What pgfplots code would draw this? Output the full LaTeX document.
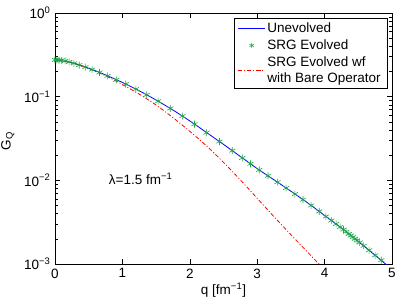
\documentclass[border=0pt]{standalone}
\usepackage{fontspec}
\setmainfont{Liberation Sans}
\usepackage{pgfplots}
\pgfplotsset{compat=1.18}
\definecolor{srggreen}{RGB}{30,165,70}
\begin{document}
\fontsize{13.5}{16}\selectfont
\begin{tikzpicture}[font=\fontsize{13.5}{16}\selectfont]
\begin{axis}[name=ax, scale only axis, width=337pt, height=251pt,
  xmin=0, xmax=5, ymode=log, ymin=1e-3, ymax=1,
  xtick={0,1,2,3,4,5},
  ytick={1e-3,1e-2,1e-1,1},
  yticklabels={10\textsuperscript{−3},10\textsuperscript{−2},10\textsuperscript{−1},10\textsuperscript{0}},
  /pgf/number format/assume math mode=true,
  tick align=inside, major tick length=5pt, minor tick length=3pt,
  every tick/.style={black, line width=0.5pt},
  axis line style={line width=0.6pt},
  xlabel={q [fm\textsuperscript{−1}]},
  ylabel={G\textsubscript{Q}},
  xlabel style={at={(axis description cs:0.5,-0.105)}, anchor=center},
  ylabel style={at={(axis description cs:-0.14,0.49)}, anchor=center},
  legend style={at={(0.985,0.98)}, anchor=north east,
    cells={align=left, anchor=west}, inner xsep=4pt, inner ysep=2pt, row sep=1.5pt},
  legend cell align=left,
  legend image code/.code={\draw[mark repeat=2,mark phase=2,#1] plot coordinates {(0cm,0cm) (0.47cm,0cm) (0.94cm,0cm)};},
  clip=true,
]
\addplot[blue, line width=0.8pt, smooth] coordinates {
(0,0.2754) (0.25,0.2541) (0.5,0.2188) (0.75,0.1820) (1.0,0.1479) (1.25,0.1175)
(1.5,0.0912) (1.75,0.0692) (2.0,0.0513) (2.25,0.0372) (2.5,0.0269) (2.75,0.0193)
(3.0,0.0138) (3.25,0.01012) (3.5,0.00741) (3.75,0.00537) (4.0,0.00380) (4.25,0.00269)
(4.5,0.00186) (4.75,0.00127) (4.95,0.000933)
};
\addlegendentry{Unevolved}
\addplot[srggreen, mark=asterisk, mark size=3.5pt, draw=none, mark options={line width=0.6pt},
  legend image code/.code={\draw[srggreen, line width=0.5pt] plot[mark=asterisk, mark size=2.5pt] coordinates {(0.47cm,0cm)};}] coordinates {
(0,0.2754) (0.03,0.2752) (0.06,0.2742) (0.1,0.2723) (0.15,0.2679) (0.21,0.2600)
(0.28,0.2506) (0.36,0.2388) (0.45,0.2254) (0.55,0.2109) (0.66,0.1945) (0.78,0.1774)
(0.91,0.1592) (1.05,0.1413) (1.2,0.1230) (1.36,0.1052) (1.53,0.0883) (1.71,0.0723)
(1.89,0.0585) (2.07,0.0469) (2.25,0.0372) (2.44,0.0291) (2.63,0.02265) (2.78,0.01853)
(2.9,0.01578) (3.03,0.01330) (3.16,0.01132) (3.3,0.00951) (3.43,0.00809) (3.56,0.00686)
(3.68,0.00587) (3.8,0.00501) (3.92,0.00425) (4.02,0.00370) (4.1,0.00331) (4.17,0.00301)
(4.23,0.00277) (4.28,0.00258) (4.32,0.00243) (4.36,0.00229) (4.39,0.00219) (4.42,0.00209)
(4.45,0.00200) (4.48,0.00192) (4.52,0.00181) (4.58,0.00165) (4.66,0.00146) (4.75,0.00127)
(4.84,0.00111) (4.91,0.000993)
};
\addlegendentry{SRG Evolved}
\addplot[red, line width=0.8pt, smooth, dash pattern=on 4pt off 2pt on 1pt off 2pt] coordinates {
(0,0.2754) (0.25,0.2541) (0.5,0.2163) (0.75,0.1778) (1.0,0.1396) (1.25,0.1072)
(1.5,0.0794) (1.75,0.0562) (2.0,0.0385) (2.25,0.0257) (2.5,0.01641) (2.75,0.01012)
(3.0,0.00610) (3.25,0.00367) (3.5,0.00224) (3.75,0.00138) (4.0,0.000851)
};
\addlegendentry{SRG Evolved wf\\with Bare Operator}
\node at (axis cs:1.27,0.0105) {λ=1.5 fm\textsuperscript{−1}};
\end{axis}
\pgfresetboundingbox
\path ([shift={(-55pt,-36pt)}]ax.south west) rectangle ([shift={(7pt,13pt)}]ax.north east);
\end{tikzpicture}
\end{document}
